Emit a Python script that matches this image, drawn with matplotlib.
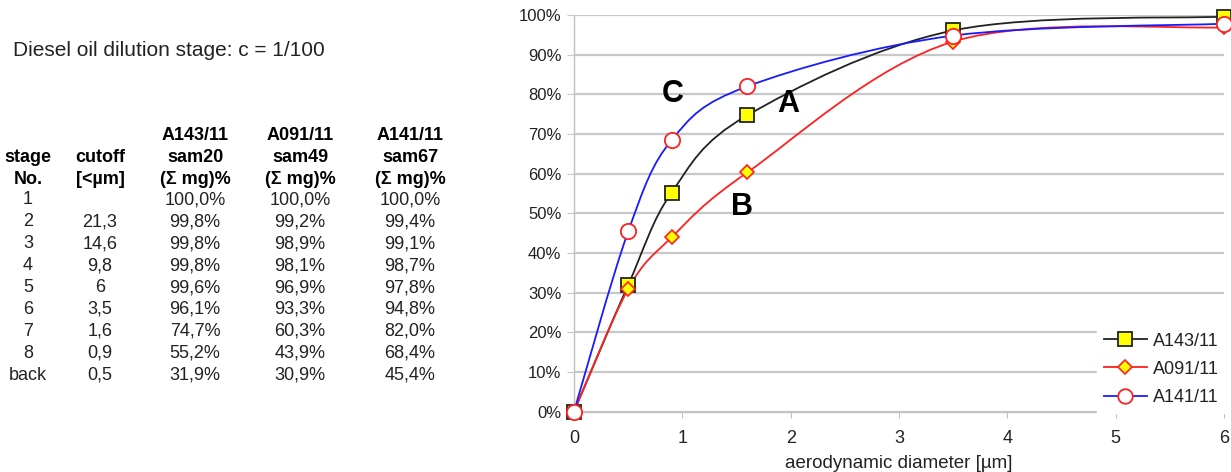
import numpy as np
import matplotlib.pyplot as plt
from matplotlib.path import Path
from matplotlib.patches import PathPatch
from matplotlib.lines import Line2D
from matplotlib.ticker import PercentFormatter

plt.rcParams['font.family'] = ['Liberation Sans', 'DejaVu Sans']

# table data
stages = ["1", "2", "3", "4", "5", "6", "7", "8", "back"]
cutoff_txt = ["", "21,3", "14,6", "9,8", "6", "3,5", "1,6", "0,9", "0,5"]
cutoff = [None, 21.3, 14.6, 9.8, 6, 3.5, 1.6, 0.9, 0.5]
a143 = [100.0, 99.8, 99.8, 99.8, 99.6, 96.1, 74.7, 55.2, 31.9]
a091 = [100.0, 99.2, 98.9, 98.1, 96.9, 93.3, 60.3, 43.9, 30.9]
a141 = [100.0, 99.4, 99.1, 98.7, 97.8, 94.8, 82.0, 68.4, 45.4]
samples = ["A143/11", "A091/11", "A141/11"]
sam_ids = ["sam20", "sam49", "sam67"]

# chart uses stages 5..back (cutoff <= 6) plus the origin
n_chart = 5
chart_x = [0.0] + cutoff[-n_chart:][::-1]


def chart_y(vals):
    return [0.0] + [v / 100 for v in vals[-n_chart:][::-1]]


def smooth_path(xs, ys):
    # excel-like smoothed line: bezier segments, tension 1/6
    p = np.column_stack([xs, ys])
    n = len(p)
    verts = [p[0]]
    codes = [Path.MOVETO]
    for i in range(n - 1):
        p0 = p[i - 1] if i > 0 else p[i]
        p3 = p[i + 2] if i + 2 < n else p[i + 1]
        c1 = p[i] + (p[i + 1] - p0) / 6
        c2 = p[i + 1] - (p3 - p[i]) / 6
        verts += [c1, c2, p[i + 1]]
        codes += [Path.CURVE4] * 3
    return Path(verts, codes)


fig = plt.figure(figsize=(12.31, 4.72), dpi=100)
W, H = 1231, 472


def fx(px):
    return px / W


def fy(py):
    return 1 - py / H


# title and table on the left
fig.text(fx(13), fy(50), "Diesel oil dilution stage: c = 1/100", fontsize=15,
         va="center", ha="left", color="#222222")

col_x = [28, 100, 195, 300, 410]
hdr_y = [135, 157, 179]
fig.text(fx(col_x[0]), fy(hdr_y[1]), "stage", fontsize=13, fontweight="bold", ha="center", va="center")
fig.text(fx(col_x[0]), fy(hdr_y[2]), "No.", fontsize=13, fontweight="bold", ha="center", va="center")
fig.text(fx(col_x[1]), fy(hdr_y[1]), "cutoff", fontsize=13, fontweight="bold", ha="center", va="center")
fig.text(fx(col_x[1]), fy(hdr_y[2]), "[<µm]", fontsize=13, fontweight="bold", ha="center", va="center")
for j in range(3):
    fig.text(fx(col_x[j + 2]), fy(hdr_y[0]), samples[j], fontsize=13, fontweight="bold", ha="center", va="center")
    fig.text(fx(col_x[j + 2]), fy(hdr_y[1]), sam_ids[j], fontsize=13, fontweight="bold", ha="center", va="center")
    fig.text(fx(col_x[j + 2]), fy(hdr_y[2]), "(Σ mg)%", fontsize=13, fontweight="bold", ha="center", va="center")

row_y0, row_dy = 200, 21.9


def pct(v):
    return f"{v:.1f}%".replace(".", ",")


for i in range(len(stages)):
    yy = fy(row_y0 + i * row_dy)
    row = [stages[i], cutoff_txt[i], pct(a143[i]), pct(a091[i]), pct(a141[i])]
    for j, t in enumerate(row):
        fig.text(fx(col_x[j]), yy, t, fontsize=13, ha="center", va="center", color="#222222")

# chart
ax = fig.add_axes([fx(574), fy(411.5), fx(1224) - fx(574), (411.5 - 15) / H])
ax.set_xlim(0, 6)
ax.set_ylim(0, 1)
ax.set_xticks(range(7))
ax.set_yticks(np.arange(0, 1.01, 0.1))
ax.yaxis.set_major_formatter(PercentFormatter(1.0, decimals=0))
ax.grid(axis="y", color="#c8c8c8", linewidth=1.6)
ax.set_axisbelow(True)
for s in ["top", "right"]:
    ax.spines[s].set_visible(False)
for s in ["left", "bottom"]:
    ax.spines[s].set_color("#c0c0c0")
    ax.spines[s].set_linewidth(1.0)
ax.tick_params(axis="y", length=5, color="#c8c8c8", labelsize=12, pad=4, labelcolor="#222222")
ax.tick_params(axis="x", length=4, color="#c0c0c0", labelsize=13, pad=9, labelcolor="#222222")
ax.set_xlabel("aerodynamic diameter [µm]", fontsize=13.5, color="#222222", labelpad=6)

styles = [
    dict(color="#222222", marker="s", mfc="#ffff00", mec="#222222", ms=10, mew=1.3),
    dict(color="#ff2020", marker="D", mfc="#ffff00", mec="#ff2020", ms=7.5, mew=1.2),
    dict(color="#1a1aff", marker="o", mfc="white", mec="#ff2020", ms=11, mew=1.3),
]
series = [chart_y(a143), chart_y(a091), chart_y(a141)]

handles = []
for k, (ys, st) in enumerate(zip(series, styles)):
    patch = PathPatch(smooth_path(chart_x, ys), facecolor="none", edgecolor=st["color"],
                      lw=1.3, zorder=3 + k, clip_on=False)
    ax.add_patch(patch)
    ax.plot(chart_x, ys, linestyle="none", marker=st["marker"], mfc=st["mfc"], mec=st["mec"],
            ms=st["ms"], mew=st["mew"], zorder=6 + k, clip_on=False)
    handles.append(Line2D([], [], color=st["color"], lw=1.3, marker=st["marker"], mfc=st["mfc"],
                          mec=st["mec"], ms=st["ms"] * 0.95, mew=st["mew"]))

ax.text(0.91, 0.80, "C", fontsize=22, fontweight="bold", ha="center", va="center")
ax.text(1.98, 0.775, "A", fontsize=22, fontweight="bold", ha="center", va="center")
ax.text(1.55, 0.515, "B", fontsize=22, fontweight="bold", ha="center", va="center")

leg = ax.legend(handles, samples, loc="upper left", bbox_to_anchor=(0.79, 0.24),
                fontsize=13, frameon=True, facecolor="white", edgecolor="white",
                framealpha=1, fancybox=False, handlelength=2.4, handletextpad=0.3,
                labelspacing=0.62, borderpad=0.4, labelcolor="#222222")
leg.set_zorder(10)

fig.savefig("out.png", dpi=100)
